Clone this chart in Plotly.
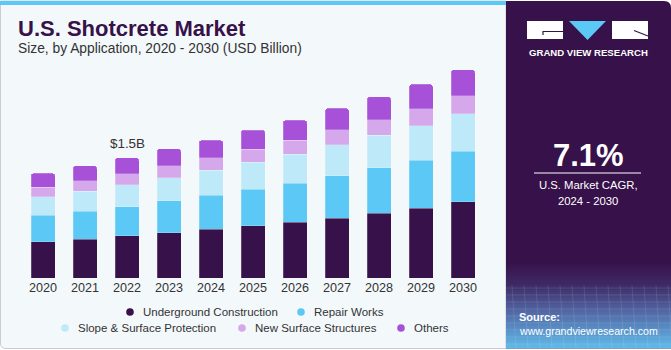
import plotly.graph_objects as go

years = ["2020", "2021", "2022", "2023", "2024", "2025", "2026", "2027", "2028", "2029", "2030"]
underground = [0.453, 0.486, 0.524, 0.565, 0.607, 0.652, 0.695, 0.748, 0.810, 0.869, 0.948]
repair = [0.328, 0.345, 0.365, 0.399, 0.424, 0.453, 0.486, 0.524, 0.565, 0.602, 0.632]
slope = [0.233, 0.253, 0.271, 0.287, 0.312, 0.340, 0.365, 0.390, 0.403, 0.428, 0.465]
new_surface = [0.116, 0.128, 0.141, 0.146, 0.158, 0.162, 0.171, 0.187, 0.196, 0.212, 0.228]
others = [0.175, 0.187, 0.200, 0.216, 0.216, 0.237, 0.249, 0.266, 0.287, 0.303, 0.324]
series_names = ["Underground Construction", "Repair Works", "Slope & Surface Protection",
                "New Surface Structures", "Others"]
series_colors = ["#371149", "#5bc8f5", "#bde9f9", "#d5a8ec", "#a651d8"]
label_year = "2022"
label_text = "$1.5B"
cagr_text = "7.1%"

W, H = 671, 350


def px(x):
    return x / W


def py(y):
    return 1 - y / H


fig = go.Figure()
for name, vals, col in zip(series_names, [underground, repair, slope, new_surface, others], series_colors):
    fig.add_trace(go.Bar(
        x=years, y=vals, name=name, marker_color=col,
        marker_line=dict(width=0.6, color="rgba(255,255,255,0.35)"),
        showlegend=False, hoverinfo="skip"))

label_idx = years.index(label_year)
total_label = sum(s[label_idx] for s in [underground, repair, slope, new_surface, others])

shapes = []
ann = []

# left panel
shapes.append(dict(type="path", xref="paper", yref="paper",
                   path=f"M {px(0.5)},{py(1)} L {px(506)},{py(1)} L {px(506)},{py(348.5)} "
                        f"L {px(6)},{py(348.5)} Q {px(0.5)},{py(348.5)} {px(0.5)},{py(343)} Z",
                   fillcolor="#f3f8fb", line=dict(color="#c9cdd1", width=1), layer="below"))
shapes.append(dict(type="rect", xref="paper", yref="paper", x0=px(0), x1=px(506), y0=py(1), y1=py(5),
                   fillcolor="#5bc8f5", line=dict(width=0), layer="below"))

# right panel
shapes.append(dict(type="path", xref="paper", yref="paper",
                   path=f"M {px(506)},{py(1)} L {px(664)},{py(1)} Q {px(671)},{py(1)} {px(671)},{py(8)} "
                        f"L {px(671)},{py(348.5)} L {px(506)},{py(348.5)} Z",
                   fillcolor="#371149", line=dict(width=0), layer="below"))
# gradient at bottom of right panel
stops = [(262, (55, 17, 73)), (285, (62, 42, 102)), (312, (82, 104, 165)), (348, (96, 186, 234))]
y = 262
step = 2
while y < 348:
    yc = y + step / 2
    for (ya, ca), (yb, cb) in zip(stops[:-1], stops[1:]):
        if ya <= yc <= yb:
            t = (yc - ya) / (yb - ya)
            c = tuple(int(round(ca[i] + (cb[i] - ca[i]) * t)) for i in range(3))
            break
    shapes.append(dict(type="rect", xref="paper", yref="paper", x0=px(506), x1=px(671),
                       y0=py(y), y1=py(min(y + step + 0.5, 348.5)),
                       fillcolor=f"rgb{c}", line=dict(width=0), layer="below"))
    y += step
# faint grid in the gradient
for gx in range(512, 671, 12):
    shapes.append(dict(type="line", xref="paper", yref="paper", x0=px(gx), x1=px(gx + 4), y0=py(285), y1=py(348),
                       line=dict(color="rgba(255,255,255,0.10)", width=1), layer="below"))
for gy in range(288, 348, 7):
    shapes.append(dict(type="line", xref="paper", yref="paper", x0=px(506), x1=px(671), y0=py(gy), y1=py(gy),
                       line=dict(color="rgba(255,255,255,0.10)", width=1), layer="below"))

# logo
shapes.append(dict(type="rect", xref="paper", yref="paper", x0=px(527), x1=px(563), y0=py(21), y1=py(39),
                   fillcolor="white", line=dict(width=0)))
shapes.append(dict(type="path", xref="paper", yref="paper",
                   path=f"M {px(543)},{py(35)} L {px(543)},{py(31.5)} L {px(563)},{py(31.5)}",
                   line=dict(color="#371149", width=1.2)))
shapes.append(dict(type="path", xref="paper", yref="paper",
                   path=f"M {px(569)},{py(21)} L {px(606)},{py(21)} L {px(587.5)},{py(40)} Z",
                   fillcolor="#5bc8f5", line=dict(width=0)))
shapes.append(dict(type="rect", xref="paper", yref="paper", x0=px(612), x1=px(648), y0=py(21), y1=py(39),
                   fillcolor="white", line=dict(width=0)))
shapes.append(dict(type="line", xref="paper", yref="paper", x0=px(634), x1=px(648), y0=py(30.5), y1=py(36),
                   line=dict(color="#371149", width=1.2)))
ann.append(dict(text="<b>GRAND VIEW RESEARCH</b>", x=px(588), y=py(52), xref="paper", yref="paper",
                showarrow=False, xanchor="center", yanchor="middle",
                font=dict(family="Liberation Sans", size=9.6, color="white")))

# CAGR
ann.append(dict(text=f"<b>{cagr_text}</b>", x=px(588), y=py(155), xref="paper", yref="paper",
                showarrow=False, xanchor="center", yanchor="middle",
                font=dict(family="Liberation Sans", size=31, color="white")))
shapes.append(dict(type="line", xref="paper", yref="paper", x0=px(534), x1=px(641), y0=py(173), y1=py(173),
                   line=dict(color="white", width=1)))
ann.append(dict(text="U.S. Market CAGR,", x=px(588), y=py(185), xref="paper", yref="paper",
                showarrow=False, xanchor="center", yanchor="middle",
                font=dict(family="Liberation Sans", size=11.3, color="white")))
ann.append(dict(text="2024 - 2030", x=px(588), y=py(201), xref="paper", yref="paper",
                showarrow=False, xanchor="center", yanchor="middle",
                font=dict(family="Liberation Sans", size=11.3, color="white")))

# source
ann.append(dict(text="<b>Source:</b>", x=px(517), y=py(317), xref="paper", yref="paper",
                showarrow=False, xanchor="left", yanchor="middle",
                font=dict(family="Liberation Sans", size=11, color="white")))
ann.append(dict(text="www.grandviewresearch.com", x=px(517), y=py(330.5), xref="paper", yref="paper",
                showarrow=False, xanchor="left", yanchor="middle",
                font=dict(family="Liberation Sans", size=10.6, color="white")))

# titles
ann.append(dict(text="<b>U.S. Shotcrete Market</b>", x=px(16), y=py(29), xref="paper", yref="paper",
                showarrow=False, xanchor="left", yanchor="middle",
                font=dict(family="Liberation Sans", size=22, color="#371149")))
ann.append(dict(text="Size, by Application, 2020 - 2030 (USD Billion)", x=px(16), y=py(48.5), xref="paper",
                yref="paper", showarrow=False, xanchor="left", yanchor="middle",
                font=dict(family="Liberation Sans", size=13.8, color="#333333")))

# bar label (category axes take the category index for annotations)
ann.append(dict(text=label_text, x=label_idx, y=total_label, xref="x", yref="y",
                showarrow=False, xanchor="center", yanchor="bottom", yshift=5,
                font=dict(family="Liberation Sans", size=13.4, color="#333333")))

# manual legend
legend_pos = [(130, 141, 312), (301, 312, 312), (65, 76, 328), (242, 253, 328), (401, 412, 328)]
for (mx, tx, ly), name, col in zip(legend_pos, series_names, series_colors):
    r = 3.8
    shapes.append(dict(type="circle", xref="paper", yref="paper", x0=px(mx - r), x1=px(mx + r),
                       y0=py(ly - r), y1=py(ly + r), fillcolor=col, line=dict(width=0)))
    ann.append(dict(text=name, x=px(tx), y=py(ly), xref="paper", yref="paper",
                    showarrow=False, xanchor="left", yanchor="middle",
                    font=dict(family="Liberation Sans", size=11.5, color="#333333")))

plot_top, plot_bottom, plot_left, plot_right = 62, 278, 22, 484
ppb = 80.2  # pixels per billion
fig.update_layout(
    width=W, height=H, margin=dict(l=0, r=0, t=0, b=0, pad=0, autoexpand=False),
    paper_bgcolor="white", plot_bgcolor="rgba(0,0,0,0)",
    barmode="stack", bargap=1 - 24 / 42, barcornerradius=3,
    xaxis=dict(type="category", domain=[px(plot_left), px(plot_right)], showgrid=False, zeroline=False,
               showline=False, automargin=False, range=[-0.5, len(years) - 0.5],
               ticks="", tickfont=dict(family="Liberation Sans", size=12.6, color="#333333"),
               fixedrange=True),
    yaxis=dict(domain=[py(plot_bottom), py(plot_top)], range=[0, (plot_bottom - plot_top) / ppb],
               visible=False, showgrid=False, zeroline=False, fixedrange=True, automargin=False),
    shapes=shapes, annotations=ann, showlegend=False,
)

fig.write_html("out.html")
